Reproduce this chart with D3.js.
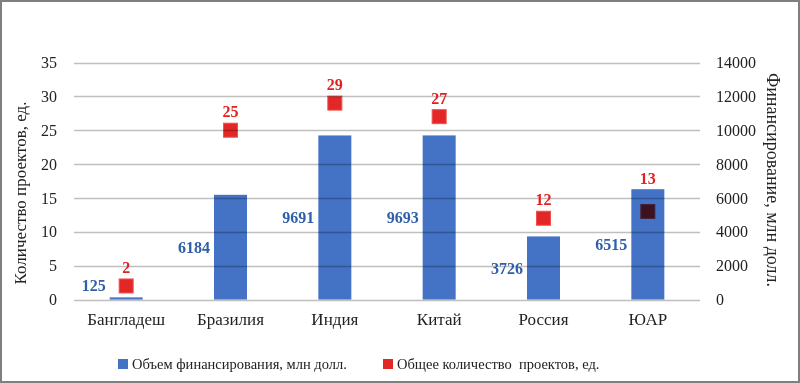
<!DOCTYPE html>
<html><head><meta charset="utf-8">
<script src="https://cdn.jsdelivr.net/npm/d3@7"></script>
<style>body{margin:0;background:#fff}svg{display:block}</style>
</head><body>
<script>
const categories = ["Бангладеш","Бразилия","Индия","Китай","Россия","ЮАР"];
const funding = [125, 6184, 9691, 9693, 3726, 6515];
const projects = [2, 25, 29, 27, 12, 13];
const leftTicks = [0,5,10,15,20,25,30,35];
const rightTicks = [0,2000,4000,6000,8000,10000,12000,14000];
const legendLabels = ["Объем финансирования, млн долл.", "Общее количество  проектов, ед."];

const W = 800, H = 383;
const font = "'Liberation Serif', 'DejaVu Serif', serif";
const svg = d3.select("body").append("svg").attr("width", W).attr("height", H);
svg.append("rect").attr("x",1).attr("y",1).attr("width",W-2).attr("height",H-2)
  .attr("fill","#fff").attr("stroke","#7f7f7f").attr("stroke-width",2);

const x0 = 74, x1 = 700, yTop = 62.5, yBot = 299.5;
const x = d3.scaleBand().domain(categories).range([x0, x1]);
const yL = d3.scaleLinear().domain([0,35]).range([yBot, yTop]);
const yR = d3.scaleLinear().domain([0,14000]).range([yBot, yTop]);
const bw = 33;
const cx = d => x(d) + x.bandwidth()/2;

// markers (under bars)
svg.append("g").selectAll("rect").data(categories).join("rect")
  .attr("x", d => cx(d) - 7)
  .attr("y", (d,i) => yL(projects[i]) - 7)
  .attr("width", 14).attr("height", 14)
  .attr("fill", "#e32626").attr("stroke", "#f05050").attr("stroke-width", 1);

// bars
svg.append("g").selectAll("rect").data(categories).join("rect")
  .attr("x", d => cx(d) - bw/2)
  .attr("y", (d,i) => yR(funding[i]))
  .attr("width", bw)
  .attr("height", (d,i) => yR(0) - yR(funding[i]))
  .attr("fill", "#4472c4")
  .style("mix-blend-mode", "multiply");

// gridlines on top
svg.append("g").selectAll("line").data(leftTicks).join("line")
  .attr("x1", x0).attr("x2", x1)
  .attr("y1", d => Math.round(yL(d)) + 0.5).attr("y2", d => Math.round(yL(d)) + 0.5)
  .attr("stroke", "rgba(0,0,0,0.25)").attr("stroke-width", 1.3);

// left axis
const axL = d3.axisLeft(yL).tickValues(leftTicks).tickSize(0).tickPadding(0);
const gL = svg.append("g").attr("transform", `translate(57,0)`).call(axL);
gL.select(".domain").remove();
gL.selectAll("text").attr("font-family", font).attr("font-size", 16).attr("fill", "#222");

// right axis
const axR = d3.axisRight(yR).tickValues(rightTicks).tickFormat(d3.format("d")).tickSize(0).tickPadding(0);
const gR = svg.append("g").attr("transform", `translate(716,0)`).call(axR);
gR.select(".domain").remove();
gR.selectAll("text").attr("font-family", font).attr("font-size", 16).attr("fill", "#222");

// x axis labels
const axX = d3.axisBottom(x).tickSize(0).tickPadding(0);
const gX = svg.append("g").attr("transform", `translate(0,313)`).call(axX);
gX.select(".domain").remove();
gX.selectAll("text").attr("font-family", font).attr("font-size", 17).attr("fill", "#222");

// axis titles
svg.append("text").attr("transform", `translate(26,193) rotate(-90)`)
  .attr("text-anchor","middle").attr("font-family", font).attr("font-size", 17).attr("fill","#222")
  .text("Количество проектов, ед.");
svg.append("text").attr("transform", `translate(767,180) rotate(90)`)
  .attr("text-anchor","middle").attr("font-family", font).attr("font-size", 18).attr("fill","#222")
  .text("Финансирование, млн долл.");

// bar labels
svg.append("g").selectAll("text").data(categories).join("text")
  .attr("x", d => cx(d) - bw/2 - 4)
  .attr("y", (d,i) => Math.min((yR(funding[i]) + yR(0))/2, yR(0) - 14))
  .attr("dy", "0.35em").attr("text-anchor", "end")
  .attr("font-family", font).attr("font-size", 16).attr("font-weight", "bold").attr("fill", "#2f5fa8")
  .text((d,i) => funding[i]);

// marker labels (lifted above the bar when the marker sits inside it)
svg.append("g").selectAll("text").data(categories).join("text")
  .attr("x", d => cx(d))
  .attr("y", (d,i) => {
    const m = yL(projects[i]), top = yR(funding[i]);
    return m - 7 > top ? top - 5 : m - 13;
  })
  .attr("text-anchor", "middle")
  .attr("font-family", font).attr("font-size", 16).attr("font-weight", "bold").attr("fill", "#e32020")
  .text((d,i) => projects[i]);

// legend
const lg = svg.append("g");
const legX = [118, 383], legC = ["#4472c4", "#e32626"];
legendLabels.forEach((t, i) => {
  lg.append("rect").attr("x", legX[i]).attr("y", 359).attr("width", 10).attr("height", 10).attr("fill", legC[i]);
  lg.append("text").attr("x", legX[i] + 14).attr("y", 364).attr("dy","0.35em")
    .attr("font-family", font).attr("font-size", 14.5).attr("fill", "#222")
    .style("white-space","pre").text(t);
});
</script>
</body></html>
